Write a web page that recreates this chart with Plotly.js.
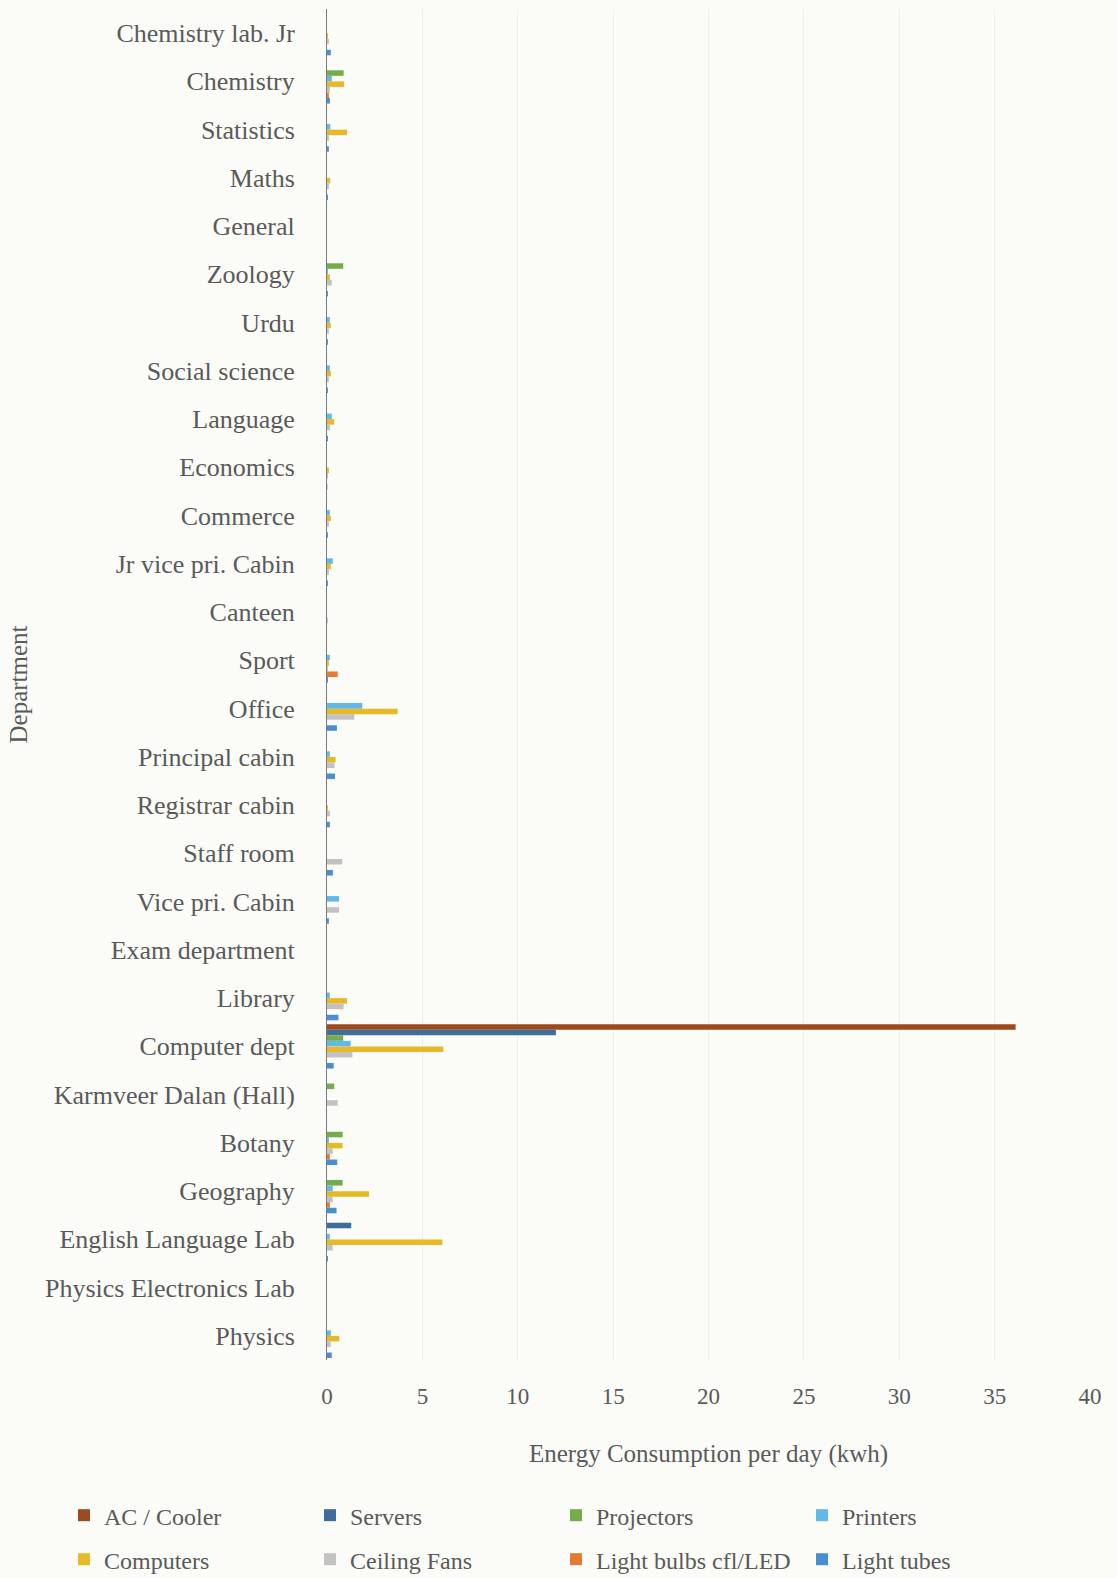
<!DOCTYPE html>
<html>
<head>
<meta charset="utf-8">
<script src="https://cdn.plot.ly/plotly-3.0.1.min.js"></script>
<style>
  html, body { margin: 0; padding: 0; background: #fbfbf8; }
  #chart { width: 1117px; height: 1578px; }
</style>
</head>
<body>
<div id="chart"></div>
<script>
// Categories, top to bottom
const departments = [
  "Chemistry lab. Jr", "Chemistry", "Statistics", "Maths", "General", "Zoology",
  "Urdu", "Social science", "Language", "Economics", "Commerce", "Jr vice pri. Cabin",
  "Canteen", "Sport", "Office", "Principal cabin", "Registrar cabin", "Staff room",
  "Vice pri. Cabin", "Exam department", "Library", "Computer dept",
  "Karmveer Dalan (Hall)", "Botany", "Geography", "English Language Lab",
  "Physics Electronics Lab", "Physics"
];

// Energy consumption per day (kwh) per series, same order as departments
const acCooler    = [0,0,0,0,0,0,0,0,0,0,0,0,0,0,0,0,0,0,0,0,0,36.1,0,0,0,0,0,0];
const servers     = [0,0,0,0,0,0,0,0,0,0,0,0,0,0,0,0,0,0,0,0,0,12.0,0,0,0,1.27,0,0];
const projectors  = [0,0.87,0,0,0,0.85,0,0,0,0,0,0,0,0,0,0,0,0,0,0,0,0.85,0.38,0.82,0.82,0,0,0];
const printers    = [0,0.25,0.17,0,0,0.05,0.15,0.15,0.25,0,0.15,0.3,0,0.15,1.85,0.15,0,0,0.63,0,0.15,1.24,0,0.1,0.3,0.15,0,0.2];
const computers   = [0.05,0.9,1.05,0.17,0,0.15,0.2,0.2,0.38,0.1,0.2,0.2,0,0.1,3.7,0.45,0.05,0,0,0,1.05,6.1,0,0.82,2.2,6.05,0,0.64];
const ceilingFans = [0.1,0.15,0.1,0.1,0,0.25,0.1,0.1,0.15,0.05,0.1,0.1,0.05,0.05,1.43,0.4,0.15,0.8,0.63,0,0.87,1.33,0.56,0.3,0.3,0.3,0,0.2];
const lightBulbs  = [0,0.1,0,0,0,0,0,0,0,0,0,0,0,0.56,0,0,0,0,0,0,0,0,0,0.15,0.15,0,0,0];
const lightTubes  = [0.2,0.15,0.1,0.05,0,0.05,0.05,0.05,0.05,0.02,0.05,0.05,0,0.05,0.52,0.42,0.15,0.31,0.1,0,0.6,0.35,0,0.54,0.5,0.05,0,0.25];

const seriesNames = ["AC / Cooler", "Servers", "Projectors", "Printers",
                     "Computers", "Ceiling Fans", "Light bulbs cfl/LED", "Light tubes"];
const seriesValues = [acCooler, servers, projectors, printers,
                      computers, ceilingFans, lightBulbs, lightTubes];
const seriesColors = ["#9c4a1f", "#3e6e99", "#72ad4a", "#62b8e6",
                      "#e7b828", "#c2c2c2", "#e57a32", "#4b8fd3"];

const traces = seriesNames.map((name, i) => ({
  type: "bar",
  orientation: "h",
  name: name,
  y: departments,
  x: seriesValues[i],
  marker: { color: seriesColors[i] },
  legend: i < 4 ? "legend" : "legend2",
  hoverinfo: "x+y+name"
}));

const textColor = "#5a5a5a";
const fontFamily = "Liberation Serif, Times New Roman, serif";

const legendBase = {
  orientation: "h",
  xref: "paper",
  yref: "paper",
  x: -0.3447,
  xanchor: "left",
  yanchor: "top",
  entrywidth: 201,
  entrywidthmode: "pixels",
  itemwidth: 30,
  traceorder: "normal",
  font: { family: fontFamily, size: 24, color: textColor },
  bgcolor: "rgba(0,0,0,0)"
};

const layout = {
  width: 1117,
  height: 1578,
  paper_bgcolor: "#fbfbf8",
  plot_bgcolor: "#fbfbf8",
  font: { family: fontFamily, color: textColor, size: 22 },
  margin: { l: 327, r: 27, t: 9, b: 218, autoexpand: false },
  barmode: "group",
  bargap: 0.08,
  bargroupgap: 0,
  showlegend: true,
  xaxis: {
    range: [0, 40],
    dtick: 5,
    tick0: 0,
    showgrid: true,
    gridcolor: "#efefeb",
    gridwidth: 1,
    zeroline: false,
    showline: false,
    ticks: "outside",
    ticklen: 15,
    tickcolor: "rgba(0,0,0,0)",
    tickfont: { family: fontFamily, size: 23, color: textColor },
    title: {
      text: "Energy Consumption per day (kwh)",
      font: { family: fontFamily, size: 25, color: textColor },
      standoff: 36
    },
    fixedrange: true
  },
  yaxis: {
    type: "category",
    categoryorder: "array",
    categoryarray: departments,
    autorange: "reversed",
    showgrid: false,
    zeroline: false,
    showline: true,
    linecolor: "#7a7a7a",
    linewidth: 1,
    ticks: "outside",
    ticklen: 26,
    tickcolor: "rgba(0,0,0,0)",
    tickfont: { family: fontFamily, size: 26, color: textColor },
    title: {
      text: "Department",
      font: { family: fontFamily, size: 25, color: textColor },
      standoff: 10
    },
    fixedrange: true
  },
  legend: Object.assign({}, legendBase, { y: -0.0985 }),
  legend2: Object.assign({}, legendBase, { y: -0.1311 })
};

Plotly.newPlot("chart", traces, layout, { displayModeBar: false, staticPlot: true });
</script>
</body>
</html>
